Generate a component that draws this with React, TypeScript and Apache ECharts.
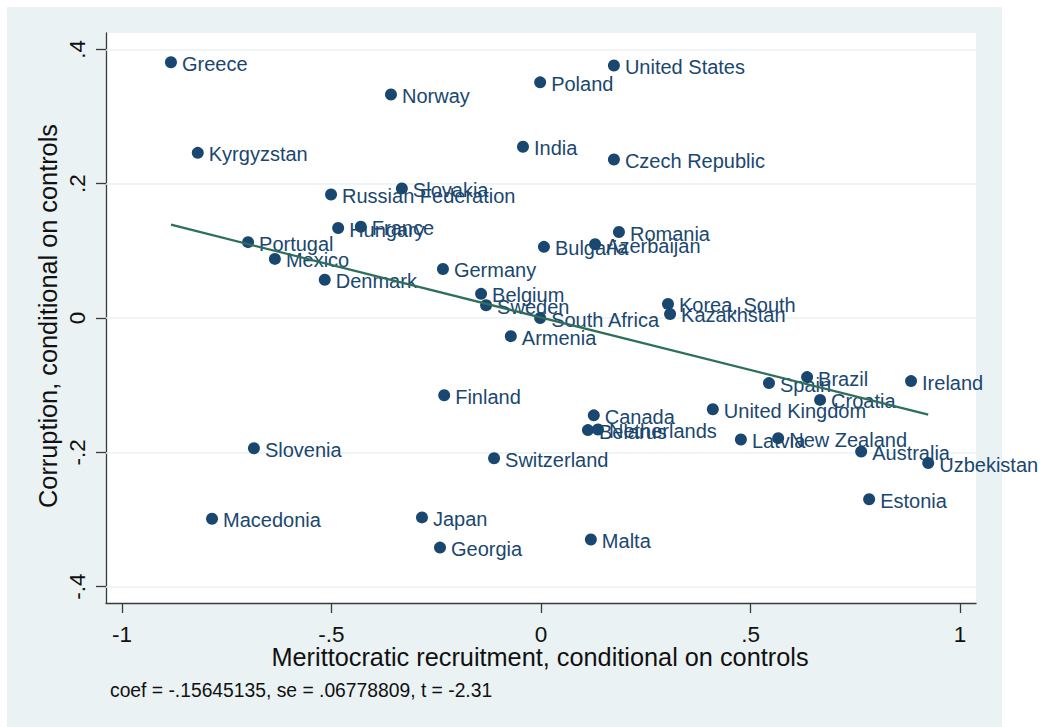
import React, { useEffect, useRef } from "react";
import * as echarts from "echarts";

const countries = [
  "Greece", "Kyrgyzstan", "Norway", "Poland", "United States", "India", "Czech Republic",
  "Russian Federation", "Slovakia", "Hungary", "France", "Portugal", "Mexico", "Denmark",
  "Germany", "Bulgaria", "Azerbaijan", "Romania", "Belgium", "Sweden", "South Africa",
  "Armenia", "Korea, South", "Kazakhstan", "Finland", "Canada", "Belarus", "Netherlands",
  "United Kingdom", "Spain", "Brazil", "Ireland", "Croatia", "Latvia", "New Zealand",
  "Australia", "Uzbekistan", "Estonia", "Slovenia", "Switzerland", "Macedonia", "Japan",
  "Georgia", "Malta",
];
const meritX = [
  -0.883, -0.819, -0.358, -0.002, 0.174, -0.043, 0.174,
  -0.501, -0.332, -0.484, -0.430, -0.699, -0.635, -0.516,
  -0.234, 0.007, 0.129, 0.186, -0.143, -0.131, -0.002,
  -0.072, 0.303, 0.308, -0.231, 0.126, 0.112, 0.136,
  0.410, 0.544, 0.635, 0.883, 0.666, 0.477, 0.566,
  0.764, 0.924, 0.783, -0.685, -0.112, -0.785, -0.284,
  -0.241, 0.119,
];
const corruptionY = [
  0.381, 0.246, 0.333, 0.351, 0.376, 0.255, 0.236,
  0.184, 0.193, 0.134, 0.136, 0.113, 0.088, 0.057,
  0.073, 0.106, 0.110, 0.128, 0.036, 0.019, 0.000,
  -0.027, 0.021, 0.006, -0.115, -0.145, -0.167, -0.166,
  -0.136, -0.097, -0.088, -0.094, -0.122, -0.181, -0.179,
  -0.199, -0.216, -0.270, -0.194, -0.209, -0.299, -0.297,
  -0.342, -0.330,
];
const fitLineX = [-0.883, 0.924];
const fitLineY = [0.139, -0.144];
const xTicks = [-1, -0.5, 0, 0.5, 1];
const yTicks = [-0.4, -0.2, 0, 0.2, 0.4];
const xTitle = "Merittocratic recruitment, conditional on controls";
const yTitle = "Corruption, conditional on controls";
const note = "coef = -.15645135, se = .06778809, t = -2.31";

const FONT = "'Liberation Sans', Arial, Helvetica, sans-serif";
const NAVY = "#1A476F";
const BG = "#EAF2F3";

const stataFmt = (v: number) => {
  if (Math.abs(v) < 1e-9) return "0";
  const s = String(Math.abs(Math.round(v * 1000) / 1000)).replace(/^0/, "");
  return (v < 0 ? "-" : "") + s;
};

export default function App() {
  const ref = useRef<HTMLDivElement>(null);
  useEffect(() => {
    if (!ref.current) return;
    const chart = echarts.init(ref.current, undefined, { renderer: "svg" });
    const points = countries.map((c, i) => ({ name: c, value: [meritX[i], corruptionY[i]] }));
    chart.setOption({
      animation: false,
      textStyle: { fontFamily: FONT },
      grid: {
        left: 106, top: 33, right: 68, bottom: 124,
        show: true, backgroundColor: "#ffffff", borderWidth: 0,
      },
      xAxis: {
        type: "value", min: -1.038, max: 1.038,
        axisLine: { show: true, onZero: false, lineStyle: { color: "#3a3a3a", width: 1.3 } },
        axisTick: { show: true, customValues: xTicks, length: 10, lineStyle: { color: "#3a3a3a", width: 1.3 } },
        axisLabel: {
          customValues: xTicks, formatter: stataFmt, margin: 20,
          color: "#111", fontSize: 22.5, fontFamily: FONT,
        },
        splitLine: { show: false },
      },
      yAxis: {
        type: "value", min: -0.4245, max: 0.4245,
        axisLine: { show: true, onZero: false, lineStyle: { color: "#3a3a3a", width: 1.3 } },
        axisTick: { show: true, customValues: yTicks, length: 10, lineStyle: { color: "#3a3a3a", width: 1.3 } },
        axisLabel: {
          customValues: yTicks, formatter: stataFmt, margin: 17, rotate: 90,
          color: "#111", fontSize: 22.5, fontFamily: FONT,
        },
        splitLine: { show: false },
      },
      series: [
        {
          type: "line",
          data: [],
          silent: true,
          markLine: {
            silent: true,
            z: 1,
            symbol: ["none", "none"],
            label: { show: false },
            lineStyle: { color: BG, width: 1.6, type: "solid" },
            data: yTicks.map((v) => ({ yAxis: v })),
          },
        },
        {
          type: "scatter",
          data: points,
          symbol: "circle",
          symbolSize: 12,
          z: 2,
          itemStyle: { color: NAVY, opacity: 1 },
          label: {
            show: true, position: "right", distance: 5, offset: [0, 1.5],
            formatter: (p: any) => p.name,
            color: NAVY, fontSize: 20, fontFamily: FONT,
          },
        },
        {
          type: "line",
          data: fitLineX.map((x, i) => [x, fitLineY[i]]),
          symbol: "none",
          z: 3,
          lineStyle: { color: "#2E6F5A", width: 2.2 },
        },
      ],
      graphic: [
        {
          type: "rect", z: -10, silent: true,
          shape: { x: 7, y: 7, width: 995, height: 722 },
          style: { fill: BG },
        },
        {
          type: "text", z: 10, x: 540, y: 657,
          style: { text: xTitle, fontSize: 25.3, fontFamily: FONT, fill: "#111", align: "center", verticalAlign: "middle" },
        },
        {
          type: "text", z: 10, x: 48, y: 316, rotation: Math.PI / 2,
          style: { text: yTitle, fontSize: 25.3, fontFamily: FONT, fill: "#111", align: "center", verticalAlign: "middle" },
        },
        {
          type: "text", z: 10, x: 110, y: 690,
          style: { text: note, fontSize: 19.3, fontFamily: FONT, fill: "#111", align: "left", verticalAlign: "middle" },
        },
      ],
    });
    return () => chart.dispose();
  }, []);
  return <div ref={ref} style={{ position: "absolute", left: 0, top: 0, width: 1044, height: 727 }} />;
}
